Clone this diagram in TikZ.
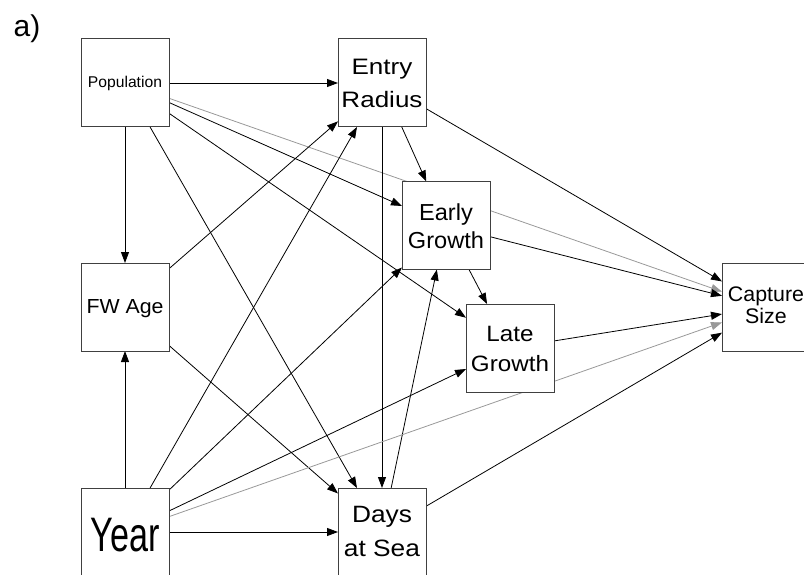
\documentclass[tikz,border=0pt]{standalone}
\usepackage{fontspec}
\setmainfont{Liberation Sans}
\usepackage{graphicx}
\usetikzlibrary{arrows.meta}
\pgfdeclarelayer{background}
\pgfsetlayers{background,main}
% #1 shift down, #2 width, #3 height (top to last baseline), #4 baselineskip, #5 rows
\newcommand\boxlab[5]{%
  \raisebox{-#1}[\height][0pt]{\resizebox{#2}{#3}{\vbox{\baselineskip=#4\lineskiplimit=-\maxdimen\lineskip=0pt\halign{\hfil##\hfil\cr#5\cr}}}}}
\begin{document}
\begin{tikzpicture}[x=1pt,y=-1pt,
  bx/.style={draw=black!75, line width=1pt, fill=white, minimum width=88pt,
    minimum height=88pt, inner sep=0pt, outer sep=0pt},
  conn/.style={line width=0.8pt, draw=black, -{Triangle[length=11pt,width=8pt]}},
  gconn/.style={conn, draw=black!40}]
\useasboundingbox (0,0) rectangle (804,575);
\node[anchor=base west, inner sep=0pt, font=\fontsize{30}{36}\selectfont] (lbl) at (13.5,36.7) {a)};
\node[bx] (pop) at (125,83)   {\boxlab{-1.3pt}{74pt}{11.3pt}{12pt}{Population}};
\node[bx] (er)  at (382,83)   {\boxlab{0.3pt}{81pt}{48pt}{14.6pt}{Entry\cr Radius}};
\node[bx] (eg)  at (446,225.5){\boxlab{0.3pt}{76pt}{45pt}{12.2pt}{Early\cr Growth}};
\node[bx] (lg)  at (510,348)  {\boxlab{1.2pt}{78pt}{45pt}{13.4pt}{Late\cr Growth}};
\node[bx] (cs)  at (766,307)  {\boxlab{-1.7pt}{76pt}{37.3pt}{10.7pt}{Capture\cr Size}};
\node[bx] (fw)  at (125,307)  {\boxlab{-0.7pt}{77pt}{14pt}{12pt}{FW Age}};
\node[bx] (yr)  at (125,532)  {\boxlab{3pt}{69pt}{33.3pt}{12pt}{Year}};
\node[bx] (ds)  at (382,532)  {\boxlab{-0.3pt}{76pt}{50pt}{14.3pt}{Days\cr at Sea}};
\begin{pgfonlayer}{background}
\draw[conn] (pop) -- (er);
\draw[conn] (pop) -- (fw);
\draw[conn] (pop) -- (eg);
\draw[conn] (pop) -- (lg);
\draw[conn] (pop) -- (ds);
\draw[gconn] (pop) -- (cs);
\draw[conn] (er) -- (eg);
\draw[conn] (er) -- (ds);
\draw[conn] (er) -- (cs);
\draw[conn] (eg) -- (lg);
\draw[conn] (eg) -- (cs);
\draw[conn] (lg) -- (cs);
\draw[conn] (ds) -- (eg);
\draw[conn] (ds) -- (cs);
\draw[conn] (fw) -- (er);
\draw[conn] (fw) -- (ds);
\draw[conn] (yr) -- (fw);
\draw[conn] (yr) -- (er);
\draw[conn] (yr) -- (eg);
\draw[conn] (yr) -- (lg);
\draw[gconn] (yr) -- (cs);
\draw[conn] (yr) -- (ds);
\end{pgfonlayer}
\end{tikzpicture}
\end{document}
